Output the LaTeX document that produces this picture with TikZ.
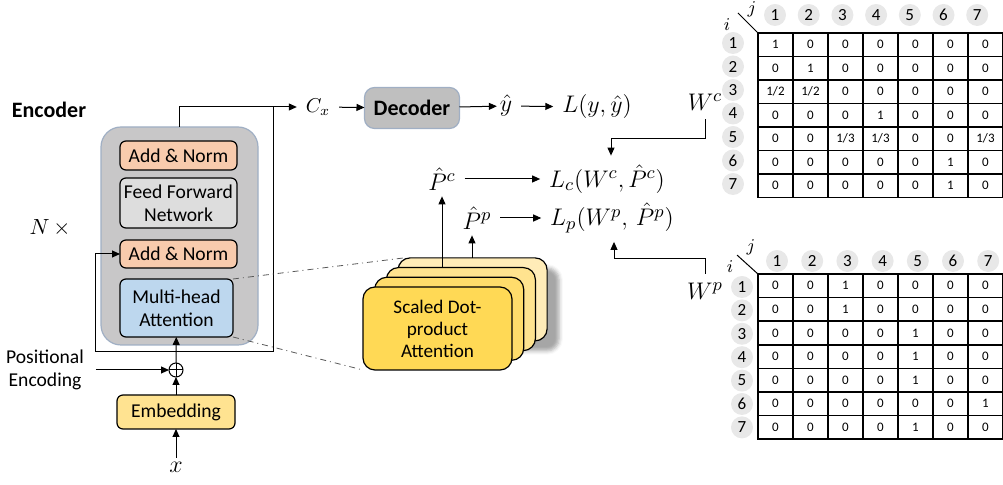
\documentclass[tikz,border=0pt]{standalone}
\usepackage{amsmath}
\usepackage{fontspec}
\setmainfont{Carlito}
\usetikzlibrary{arrows.meta,shadows.blur}

\definecolor{normfill}{HTML}{F8CBAD}
\definecolor{fffill}{HTML}{DDDDDD}
\definecolor{attfill}{HTML}{BDD7EE}
\definecolor{embfill}{HTML}{FFE391}
\definecolor{encfill}{HTML}{C8C7C8}
\definecolor{encline}{HTML}{A0AFC4}
\definecolor{decfill}{HTML}{BFBFBF}
\definecolor{headfill}{HTML}{E8E8E8}
\definecolor{sdpa}{HTML}{FFD955}
\definecolor{sdpb}{HTML}{FFDC6B}
\definecolor{sdpc}{HTML}{FFE38F}
\definecolor{sdpd}{HTML}{FFECB8}

\begin{document}
\begin{tikzpicture}[x=0.5pt,y=-0.5pt,inner sep=0pt,outer sep=0pt,line width=0.5pt,
>={Triangle[length=4pt,width=3.5pt]},
block/.style={draw,rounded corners=3pt,line width=0.6pt,minimum width=58.5pt,align=center,font=\fontsize{9.8}{11.6}\selectfont},
lbl/.style={inner sep=1.5pt,font=\fontsize{13}{15}\selectfont},
gapin/.style={shorten <=3pt},
gapout/.style={shorten >=3pt},
card/.style={draw,rounded corners=6pt,line width=0.6pt,minimum width=74.5pt,minimum height=41.5pt},
hd/.style={circle,fill=headfill,minimum size=11pt,font=\fontsize{8.5}{9}\selectfont},
cell/.style={draw,line width=0.7pt,minimum width=17.5pt,minimum height=11.75pt,font=\fontsize{6.5}{7}\selectfont}]

\useasboundingbox (0,0) rectangle (1003,485);

% encoder
\node[font=\fontsize{11}{13}\selectfont\bfseries] (enclbl) at (49,110) {Encoder};
\node[draw=encline,fill=encfill,rounded corners=10pt,line width=0.6pt,minimum width=78.5pt,minimum height=109pt] (enc) at (179.5,236) {};
\node[block,fill=normfill,minimum height=14.5pt] (norm2) at (178.5,155.5) {Add \& Norm};
\node[block,fill=fffill,minimum height=25pt] (ffn) at (178.5,203) {Feed Forward\\Network};
\node[block,fill=normfill,minimum height=14pt] (norm1) at (178.5,254) {Add \& Norm};
\node[block,fill=attfill,minimum width=56.5pt,minimum height=29pt] (mha) at (176.5,308) {Multi-head\\Attention};
\node[font=\fontsize{11}{13}\selectfont] (nx) at (50,228) {$N\,\times$};

\node[draw,circle,minimum size=7pt] (add) at (176,370) {};
\draw (add.north) -- (add.south) (add.west) -- (add.east);
\node[block,fill=embfill,minimum width=59pt,minimum height=17pt] (emb) at (176,412) {Embedding};
\node[font=\fontsize{12}{14}\selectfont,inner sep=2pt] (x) at (176,467) {$x$};
\node[align=center,font=\fontsize{9.8}{11.6}\selectfont] (pos) at (45,370) {Positional\\Encoding};

\draw[->] (x) -- (emb);
\draw[->] (emb) -- (add);
\draw[->] (add) -- (mha);
\draw[->] (pos.east) ++(12,0) -- (add.west);

% decoder side
\node[lbl,font=\fontsize{10}{12}\selectfont] (cx) at (318,107) {$C_x$};
\node[draw=encline,fill=decfill,rounded corners=5pt,line width=0.6pt,minimum width=47.5pt,minimum height=20.5pt,font=\fontsize{11}{13}\selectfont\bfseries] (dec) at (412,108) {Decoder};
\node[lbl] (yhat) at (506,106) {$\hat{y}$};
\node[lbl] (loss) at (597,107) {$L(y,\hat{y})$};

\draw[->,gapout] (enc.north) |- (cx.west);
\coordinate (loopR) at (273,352);
\coordinate (loopL) at (95,352);
\draw (loopR |- cx) -- (loopR) -- (loopL);
\draw[->] (loopL) |- (norm1.west);
\draw[->,gapin] (cx) -- (dec);
\draw[->] (dec) -- (yhat);
\draw[->,gapin,gapout] (yhat) -- (loss);

% attention heads
\node[card,fill=sdpd,blur shadow={shadow xshift=6pt,shadow yshift=-5pt,shadow opacity=35}] (card4) at (472.6,299.4) {};
\node[card,fill=sdpc] (card3) at (460.9,309.1) {};
\node[card,fill=sdpb] (card2) at (449.2,318.8) {};
\node[card,fill=sdpa,align=center,font=\fontsize{9.6}{11}\selectfont] (card1) at (437.5,328.5) {Scaled Dot-\\product\\Attention};

\draw[dash dot,gray!70!black,line width=0.4pt] (mha.north east) -- ([xshift=3pt]card4.north west);
\draw[dash dot,gray!70!black,line width=0.4pt] (mha.south east) -- (card1.south west);

\node[lbl] (pc) at (442,179) {$\hat{P}^c$};
\node[lbl] (pp) at (477,218) {$\hat{P}^p$};
\node[lbl] (lc) at (607,179) {$L_c(W^c,\hat{P}^c)$};
\node[lbl] (lp) at (612,218) {$L_p(W^p,\,\hat{P}^p)$};
\node[lbl] (wc) at (705,102) {$W^c$};
\node[lbl] (wp) at (705,291) {$W^p$};

\draw[->,shorten >=1.5pt] (card3.north -| pc.south) -- (pc.south);
\draw[->,shorten >=1.5pt] ([xshift=-2.5pt]card4.north -| pp.south) -- ([xshift=-2.5pt]pp.south);
\draw[->,gapin,gapout] (pc) -- (lc);
\draw[->,gapin,gapout] (pp) -- (lp);
\draw[->,gapin,gapout] (wc.south) -- ++(0,25) -| ([xshift=2pt]lc.north);
\draw[->,gapin,gapout] (wp.north) -- ++(0,-21) -| ([xshift=1pt]lp.south);

% W^c table
\foreach \r/\row in {1/{1,0,0,0,0,0,0},2/{0,1,0,0,0,0,0},3/{1/2,1/2,0,0,0,0,0},4/{0,0,0,1,0,0,0},
  5/{0,0,1/3,1/3,0,0,1/3},6/{0,0,0,0,0,1,0},7/{0,0,0,0,0,1,0}} {
  \node[hd] (wc-i\r) at (733,{43+23.5*(\r-1)}) {\r};
  \foreach \v [count=\c] in \row
    \node[cell] (wc-\r-\c) at ({775.5+35*(\c-1)},{44.75+23.5*(\r-1)}) {\v};
}
\foreach \c in {1,...,7}
  \node[hd] (wc-j\c) at ({775+33.7*(\c-1)},15) {\c};
\draw (wc-1-1.north west) -- ++(-20,-20);
\node[font=\fontsize{9}{10}\selectfont] (wc-j) at (752,9) {$j$};
\node[font=\fontsize{9}{10}\selectfont] (wc-i) at (727,25) {$i$};

% W^p table
\foreach \r/\row in {1/{0,0,1,0,0,0,0},2/{0,0,1,0,0,0,0},3/{0,0,0,0,1,0,0},4/{0,0,0,0,1,0,0},
  5/{0,0,0,0,1,0,0},6/{0,0,0,0,0,0,1},7/{0,0,0,0,1,0,0}} {
  \node[hd] (wp-i\r) at (742,{287+23.4*(\r-1)}) {\r};
  \foreach \v [count=\c] in \row
    \node[cell] (wp-\r-\c) at ({775.5+35*(\c-1)},{285.8+23.6*(\r-1)}) {\v};
}
\foreach \c in {1,...,7}
  \node[hd] (wp-j\c) at ({777+35.2*(\c-1)},261) {\c};
\draw (wp-1-1.north west) -- ++(-21,-19);
\node[font=\fontsize{9}{10}\selectfont] (wp-j) at (751,247) {$j$};
\node[font=\fontsize{9}{10}\selectfont] (wp-i) at (730,267) {$i$};
\end{tikzpicture}
\end{document}
